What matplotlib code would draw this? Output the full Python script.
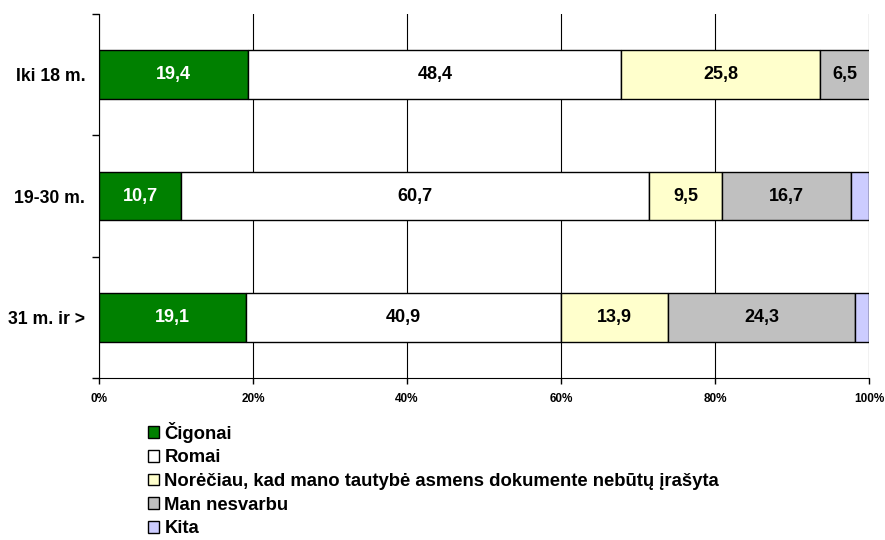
import matplotlib
matplotlib.use("Agg")
import matplotlib.pyplot as plt
import numpy as np

plt.rcParams['font.family'] = ['Liberation Sans', 'DejaVu Sans']
plt.rcParams['font.weight'] = 'bold'

# === Data ===
groups = ["Iki 18 m.", "19-30 m.", "31 m. ir >"]
series = ["Čigonai", "Romai",
          "Norėčiau, kad mano tautybė asmens dokumente nebūtų įrašyta",
          "Man nesvarbu", "Kita"]
cigonai = [19.4, 10.7, 19.1]
romai = [48.4, 60.7, 40.9]
norieciau = [25.8, 9.5, 13.9]
nesvarbu = [6.5, 16.7, 24.3]
kita = [0.0, 2.4, 1.8]
colors = ["#008000", "#FFFFFF", "#FFFFCC", "#C0C0C0", "#CCCCFF"]
text_colors = ["white", "black", "black", "black", None]

values = [cigonai, romai, norieciau, nesvarbu, kita]

fig = plt.figure(figsize=(8.85, 5.4), dpi=100)
ax = fig.add_axes([0.1119, 0.30, 0.8701, 0.674])

y = np.arange(len(groups))
left = np.zeros(len(groups))
for name, vals, col, tc in zip(series, values, colors, text_colors):
    vals = np.array(vals)
    bars = ax.barh(y, vals, left=left, height=0.4, color=col,
                   edgecolor="black", linewidth=1, label=name, zorder=3)
    if tc is not None:
        for b, v in zip(bars, vals):
            if v > 0:
                ax.text(b.get_x() + b.get_width() / 2, b.get_y() + b.get_height() / 2,
                        f"{v:.1f}".replace(".", ","), ha="center", va="center",
                        color=tc, fontsize=13, fontweight="bold", zorder=4)
    left += vals

ax.set_xlim(0, 100)
ax.set_ylim(2.5, -0.5)
ax.set_xticks([0, 20, 40, 60, 80, 100])
ax.set_xticklabels(["0%", "20%", "40%", "60%", "80%", "100%"], fontsize=8.5, fontweight="bold")
ax.set_yticks(y)
ax.set_yticklabels(groups, fontsize=12.7, fontweight="bold")
ax.tick_params(axis="y", which="major", length=0, pad=10)
ax.set_yticks([-0.5, 0.5, 1.5, 2.5], minor=True)
ax.tick_params(axis="y", which="minor", length=5, width=1)
ax.tick_params(axis="x", length=4, width=1, pad=7)
ax.grid(axis="x", color="black", linewidth=0.8, zorder=0)
ax.spines["top"].set_visible(False)
ax.spines["right"].set_visible(False)

fig.legend(loc="upper left", bbox_to_anchor=(0.167, 0.219), frameon=False,
           fontsize=13.3, handlelength=0.6, handleheight=0.6, handletextpad=0.3,
           labelspacing=0.36, borderpad=0, borderaxespad=0)

fig.savefig("out.png", dpi=100)
